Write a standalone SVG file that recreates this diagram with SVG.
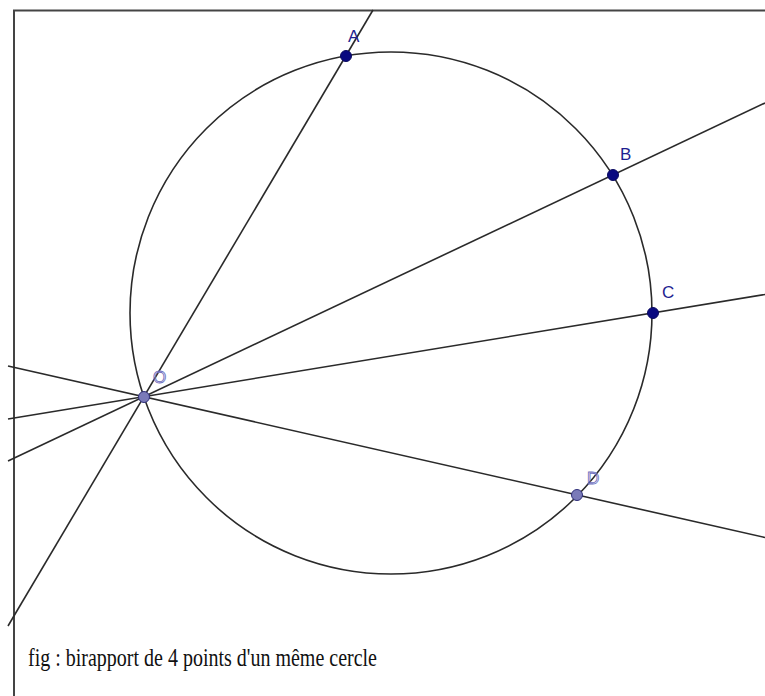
<svg xmlns="http://www.w3.org/2000/svg" width="765" height="696" viewBox="0 0 765 696">
<style>
.ln{stroke:#2a2a2a;stroke-width:1.6;fill:none}
.fr{stroke:#444;stroke-width:2;fill:none}
.pt{fill:#0a0a80;stroke:#0a0a60;stroke-width:1}
.pl{fill:#7a7ab8;stroke:#30307a;stroke-width:1}
.lb{font-family:"Liberation Sans",Arial,sans-serif;font-size:17px;fill:#1e1e90}
.ll{font-family:"Liberation Sans",Arial,sans-serif;font-size:17px;fill:none;stroke:#7070c0;stroke-width:0.9}
.cap{font-family:"Liberation Serif","Times New Roman",serif;font-size:25px;fill:#111}
</style>
<rect width="765" height="696" fill="#fff"/>
<g id="frame">
<path class="fr" d="M14 696 V10.5 H765"/>
</g>
<g id="connectors">
<circle class="ln" cx="391" cy="313" r="261"/>
<line class="ln" x1="373" y1="10" x2="8" y2="626"/>
<line class="ln" x1="765" y1="103" x2="8" y2="461"/>
<line class="ln" x1="765" y1="294.5" x2="8" y2="419"/>
<line class="ln" x1="765" y1="537.5" x2="8" y2="366"/>
</g>
<g id="A"><circle class="pt" cx="346" cy="56" r="5.5"/><text class="lb" x="348" y="42">A</text></g>
<g id="B"><circle class="pt" cx="613" cy="175" r="5.5"/><text class="lb" x="620" y="160">B</text></g>
<g id="C"><circle class="pt" cx="653" cy="313" r="5.5"/><text class="lb" x="662" y="298">C</text></g>
<g id="O"><circle class="pl" cx="144" cy="397" r="5.5"/><text class="ll" x="153" y="383">O</text></g>
<g id="D"><circle class="pl" cx="577" cy="495" r="5.5"/><text class="ll" x="587" y="484">D</text></g>
<g id="caption"><text class="cap" x="28" y="666" textLength="349" lengthAdjust="spacingAndGlyphs">fig : birapport de 4 points d'un même cercle</text></g>
</svg>
